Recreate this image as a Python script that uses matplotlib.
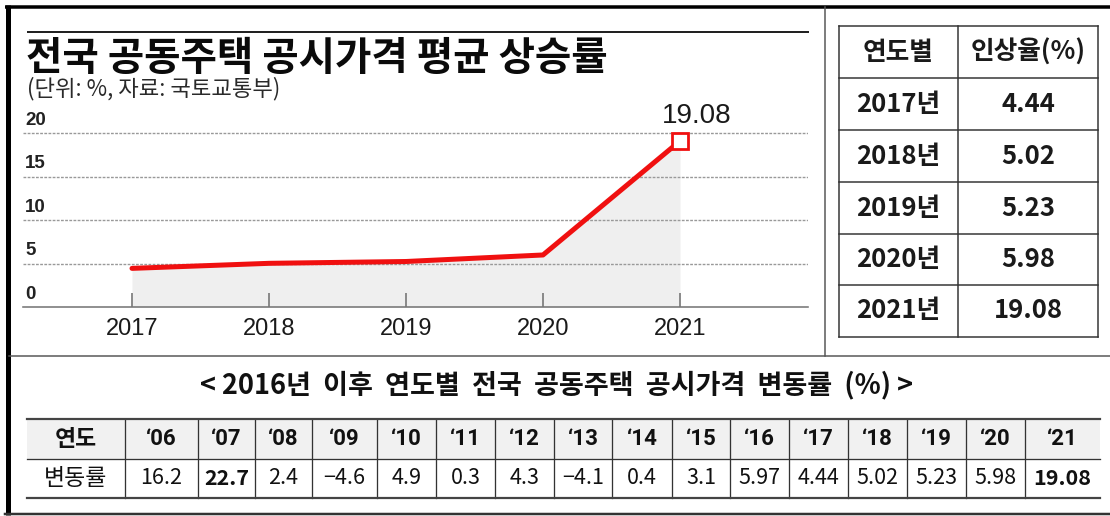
import matplotlib
matplotlib.use('Agg')
import matplotlib.pyplot as plt

plt.rcParams['font.family'] = ['Noto Sans CJK KR', 'DejaVu Sans']

# 데이터
years = [2017, 2018, 2019, 2020, 2021]
rates = [4.44, 5.02, 5.23, 5.98, 19.08]
rate_labels = ['4.44', '5.02', '5.23', '5.98', '19.08']
y_ticks = [0, 5, 10, 15, 20]

hist_years = ['06', '07', '08', '09', '10', '11', '12', '13', '14', '15',
              '16', '17', '18', '19', '20', '21']
hist_values = ['16.2', '22.7', '2.4', '-4.6', '4.9', '0.3', '4.3', '-4.1',
               '0.4', '3.1', '5.97', '4.44', '5.02', '5.23', '5.98', '19.08']
bold_years = ['07', '21']

title = '전국 공동주택 공시가격 평균 상승률'
subtitle = '(단위: %, 자료: 국토교통부)'
caption = '< 2016년  이후  연도별  전국  공동주택  공시가격  변동률  (%) >'

W, H = 1110, 516
fig = plt.figure(figsize=(W / 100, H / 100), dpi=100)

# 전체 오버레이 (픽셀 좌표)
ov = fig.add_axes([0, 0, 1, 1], zorder=0)
ov.set_xlim(0, W)
ov.set_ylim(H, 0)
ov.axis('off')

PX = 0.72  # 1px in points
# 바깥 테두리 / 구분선
ov.plot([7.5, 7.5], [5, 515], color='black', lw=5 * PX, solid_capstyle='butt')
ov.plot([5, W], [6.5, 6.5], color='black', lw=3.5 * PX, solid_capstyle='butt')
ov.plot([5, W], [514, 514], color='#333333', lw=2.5 * PX)
ov.plot([825, 825], [7, 356], color='#555555', lw=1.5 * PX)
ov.plot([9, W], [356, 356], color='#555555', lw=1.5 * PX)
ov.plot([28, 808], [32, 32], color='#222222', lw=2 * PX)

# 차트 제목
ov.text(26, 58, title, fontsize=28.5, fontweight='heavy', color='#0a0a0a',
        va='center', ha='left')
ov.text(27, 89, subtitle, fontsize=16, fontweight='medium', color='#2a2a2a',
        va='center', ha='left')

# 차트
y0, yscale = 307, 8.7
ytop = 22
ax = fig.add_axes([23 / W, (H - y0) / H, (808 - 23) / W, (ytop * yscale) / H], zorder=1)
ax.patch.set_alpha(0)
xstep = 137
ax.set_xlim(2017 - (132 - 23) / xstep, 2021 + (808 - 680) / xstep)
ax.set_ylim(0, ytop)
for s in ['top', 'right', 'left']:
    ax.spines[s].set_visible(False)
ax.spines['bottom'].set_color('#777777')
ax.spines['bottom'].set_linewidth(1.6 * PX)
ax.set_yticks([])
ax.set_xticks(years)
ax.set_xticklabels([str(y) for y in years], fontsize=17, family=['Liberation Sans'],
                   color='#1a1a1a')
ax.tick_params(axis='x', direction='in', length=10, width=1.2, color='#777777', pad=8)

for v in y_ticks[1:]:
    ax.axhline(v, color='#999999', lw=1.0, ls=(0, (2, 1)), zorder=1)
for v in y_ticks:
    ax.text(2016.22, v + 0.5, str(v), fontsize=13.5, fontweight='bold',
            family=['Liberation Sans'], color='#222222', va='bottom', ha='left')

ax.fill_between(years, rates, 0, color='#efefef', zorder=0.5, lw=0)
ax.plot(years, rates, color='#f01010', lw=5 * PX, zorder=3, solid_capstyle='round')
ax.plot(years[-1:], rates[-1:], marker='s', ms=12, mfc='white', mec='#f01010',
        mew=2, zorder=4, ls='none')
ax.text(years[-1] + 0.12, rates[-1] + 2.9, rate_labels[-1], fontsize=20,
        family=['Liberation Sans'], color='#1a1a1a', ha='center', va='center',
        clip_on=False)

# 오른쪽 표
tx = [839, 958, 1098]
ty = [26, 78, 130, 182, 234, 285, 337]
lc = '#333333'
for x in tx:
    ov.plot([x, x], [ty[0], ty[-1]], color=lc, lw=1.5 * PX)
for y in ty:
    ov.plot([tx[0], tx[-1]], [y, y], color=lc, lw=1.5 * PX)
ov.text((tx[0] + tx[1]) / 2, (ty[0] + ty[1]) / 2, '연도별', fontsize=18.5,
        fontweight='bold', ha='center', va='center', color='#1a1a1a')
ov.text((tx[1] + tx[2]) / 2, (ty[0] + ty[1]) / 2, '인상율(%)', fontsize=18.5,
        fontweight='bold', ha='center', va='center', color='#1a1a1a')
for i, (yr, lab) in enumerate(zip(years, rate_labels)):
    yc = (ty[i + 1] + ty[i + 2]) / 2
    ov.text((tx[0] + tx[1]) / 2, yc, f'{yr}년', fontsize=18.5, fontweight='bold',
            ha='center', va='center', color='#1a1a1a')
    ov.text((tx[1] + tx[2]) / 2, yc, lab, fontsize=18.5, fontweight='bold',
            ha='center', va='center', color='#1a1a1a')

# 아래 캡션
ov.text(557, 385, caption, fontsize=19.5, fontweight='bold', ha='center',
        va='center', color='#111111')

# 아래 표
cx = [27, 125, 198, 255, 312, 377, 436, 495, 554, 612, 672, 730, 789, 848,
      907, 966, 1025, 1100]
ry = [419, 459, 498]
ov.fill_between([cx[0], cx[-1]], ry[0], ry[1], color='#f1f1f1', lw=0)
for x in cx[1:-1]:
    ov.plot([x, x], [ry[0], ry[2]], color=lc, lw=1.3 * PX)
ov.plot([cx[0], cx[-1]], [ry[0], ry[0]], color='#444444', lw=2.2 * PX)
ov.plot([cx[0], cx[-1]], [ry[1], ry[1]], color=lc, lw=1.3 * PX)
ov.plot([cx[0], cx[-1]], [ry[2], ry[2]], color='#444444', lw=2.2 * PX)

hy = (ry[0] + ry[1]) / 2
dy = (ry[1] + ry[2]) / 2
ov.text((cx[0] + cx[1]) / 2, hy, '연도', fontsize=16.5, fontweight='bold',
        ha='center', va='center', color='#111111')
ov.text((cx[0] + cx[1]) / 2, dy, '변동률', fontsize=16.5, ha='center',
        va='center', color='#111111')
for i, (yr, val) in enumerate(zip(hist_years, hist_values)):
    xc = (cx[i + 1] + cx[i + 2]) / 2
    ov.text(xc, hy, '\u2018' + yr, fontsize=16, fontweight='bold',
            family=['Roboto', 'Noto Sans CJK KR'], ha='center', va='center',
            color='#111111')
    ov.text(xc, dy, val.replace('-', '\u2212'), fontsize=15.5,
            fontweight='bold' if yr in bold_years else 'normal',
            ha='center', va='center', color='#111111')

fig.savefig('out.png', dpi=100)
